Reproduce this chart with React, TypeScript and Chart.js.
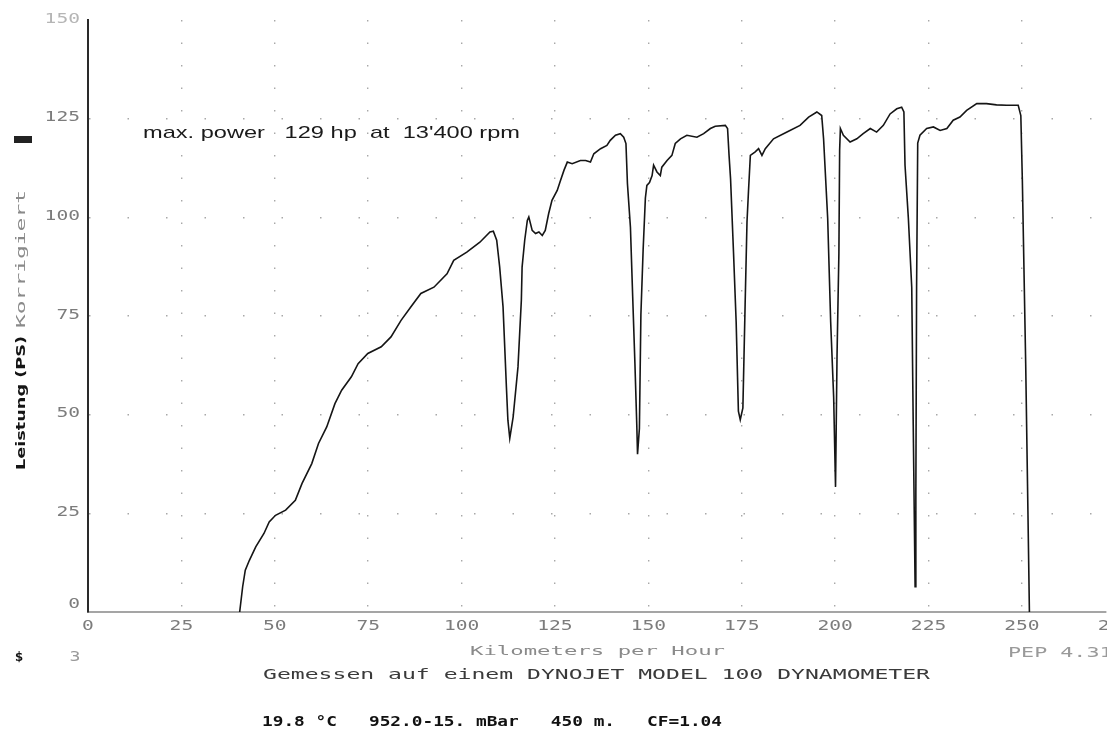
import React, { useEffect, useRef } from "react";
import { Chart, registerables } from "chart.js";

Chart.register(...registerables);

// Speed (km/h) and corrected power (PS)
const speedKmh = [
  40.6, 41.4, 42.1, 43.2, 44.9, 47.1, 48.5, 50.2, 52.9, 55.5,
  57.3, 59.9, 61.7, 63.9, 66.1, 67.9, 70.5, 72.3, 74.9, 78.5,
  81.1, 83.8, 86.4, 89.1, 92.6, 96.1, 97.9, 101.4, 104.9, 107.6,
  108.5, 109.4, 110.2, 111.1, 112.0, 112.4, 112.9, 113.8, 115.1, 116.0,
  116.2, 116.9, 117.6, 118.0, 118.9, 119.8, 120.7, 121.6, 122.4, 123.3,
  124.2, 125.6, 126.5, 127.4, 128.3, 129.6, 131.8, 133.2, 134.5, 135.4,
  137.2, 138.9, 139.8, 141.2, 142.5, 143.4, 144.0, 144.4, 145.2, 145.8,
  146.4, 146.9, 147.1, 147.6, 148.0, 148.6, 149.2, 149.6, 150.3, 151.0,
  151.4, 152.3, 153.2, 153.6, 155.0, 156.3, 157.2, 158.6, 160.3, 163.0,
  164.8, 166.6, 167.9, 170.6, 171.2, 171.6, 172.0, 172.8, 173.5, 174.1,
  174.6, 175.3, 175.9, 176.4, 176.8, 177.3, 178.6, 179.5, 180.4, 181.3,
  183.5, 187.1, 190.6, 192.9, 195.1, 196.4, 196.9, 198.0, 198.8, 199.6,
  200.1, 200.5, 201.0, 201.2, 201.4, 202.2, 204.0, 205.8, 207.5, 209.4,
  211.1, 212.9, 214.7, 216.5, 217.8, 218.4, 218.7, 219.6, 220.5, 220.9,
  221.4, 221.6, 221.8, 222.1, 222.7, 224.5, 226.3, 228.1, 229.9, 231.6,
  233.4, 235.2, 237.9, 240.5, 243.2, 245.9, 249.0, 249.7, 250.1, 251.0,
  251.6, 252.0,
];

const powerPS = [
  0, 6.4, 10.6, 13.1, 16.5, 19.9, 22.8, 24.5, 25.8, 28.3,
  32.6, 37.6, 42.7, 46.9, 52.8, 56.2, 59.6, 62.9, 65.5, 67.2,
  69.7, 73.9, 77.3, 80.7, 82.3, 85.7, 89.1, 91.2, 93.7, 96.3,
  96.5, 94.2, 87.4, 77.3, 57, 48.6, 44, 49.4, 62.1, 79,
  87.4, 94.2, 99.2, 100.1, 96.7, 95.9, 96.3, 95.4, 96.7, 100.9,
  104.3, 106.8, 109.4, 111.9, 114, 113.6, 114.4, 114.4, 114, 116.1,
  117.4, 118.2, 119.5, 120.8, 121.2, 120.3, 118.7, 108.5, 97.5, 80,
  63, 47.4, 40, 46.5, 75.3, 91.8, 104.9, 108.1, 108.8, 110.6,
  113.2, 111.5, 110.6, 112.7, 114.4, 115.7, 118.7, 119.9, 120.8, 120.3,
  121.2, 122.5, 123.1, 123.3, 122.5, 115.7, 109.8, 90.9, 73.5, 50.9,
  48.7, 51.7, 77.9, 98.8, 106.6, 115.7, 116.6, 117.4, 115.7, 117.4,
  119.9, 121.6, 123.3, 125.4, 126.7, 125.8, 119.9, 99.7, 73.5, 54.4,
  31.7, 64.8, 90.9, 117, 122.5, 120.8, 119.1, 119.9, 121.2, 122.5,
  121.6, 123.3, 126.2, 127.5, 127.9, 126.7, 113.2, 99.7, 82.2, 47.4,
  6.4, 30, 82.2, 118.8, 120.8, 122.5, 122.9, 122, 122.5, 124.6,
  125.4, 127.1, 128.8, 128.8, 128.5, 128.4, 128.4, 125.8, 109.8, 63.1,
  25.6, 0,
];

const xTickValues = [0, 25, 50, 75, 100, 125, 150, 175, 200, 225, 250, 275];
const yTickValues = [0, 25, 50, 75, 100, 125, 150];
const X_MIN = 0;
const X_MAX = 272.5;
const Y_MIN = 0;
const Y_MAX = 150;

const annotationText = "max. power   129 hp  at  13'400 rpm";
const xTitle = "Kilometers per Hour";
const yTitleMain = "Leistung (PS)";
const yTitleSub = "Korrigiert";
const footerLine1 = "Gemessen auf einem DYNOJET MODEL 100 DYNAMOMETER";
const footerLine2 = "19.8 °C   952.0-15. mBar   450 m.   CF=1.04";
const versionText = "PEP 4.31";
const runMarker = "$";
const runNumber = "3";

const MONO = '"DejaVu Sans Mono", "Liberation Mono", monospace';

function fitText(ctx: CanvasRenderingContext2D, text: string, x1: number, x2: number, y: number, font: string, color: string) {
  ctx.save();
  ctx.font = font;
  ctx.fillStyle = color;
  ctx.textBaseline = "middle";
  ctx.textAlign = "left";
  const w = ctx.measureText(text).width;
  const sx = (x2 - x1) / w;
  ctx.translate(x1, y);
  ctx.scale(sx, 1);
  ctx.fillText(text, 0, 0);
  ctx.restore();
}

function stretchText(ctx: CanvasRenderingContext2D, text: string, x: number, y: number, font: string, color: string, sx: number, align: CanvasTextAlign) {
  ctx.save();
  ctx.font = font;
  ctx.fillStyle = color;
  ctx.textBaseline = "middle";
  ctx.textAlign = align;
  ctx.translate(x, y);
  ctx.scale(sx, 1);
  ctx.fillText(text, 0, 0);
  ctx.restore();
}

const textPlugin = {
  id: "dynoText",
  afterDraw(chart: any) {
    const ctx: CanvasRenderingContext2D = chart.ctx;
    const xs = chart.scales.x;
    const ys = chart.scales.y;

    // tick labels
    xTickValues.forEach((v) => {
      stretchText(ctx, String(v), xs.getPixelForValue(v), 626, `14px ${MONO}`, "#7c7c7c", 1.4, "center");
    });
    yTickValues.forEach((v) => {
      const py = ys.getPixelForValue(v) - (v === 0 ? 8 : 1);
      stretchText(ctx, String(v), 80, py, `14px ${MONO}`, v === 150 ? "#b5b5b5" : "#7c7c7c", 1.4, "right");
    });

    // axis titles
    fitText(ctx, xTitle, 470, 725, 652, `13px ${MONO}`, "#8a8a8a");
    ctx.save();
    ctx.translate(22, 0);
    ctx.rotate(-Math.PI / 2);
    fitText(ctx, yTitleMain, -470, -336, 0, 'bold 13px "DejaVu Sans"', "#151515");
    fitText(ctx, yTitleSub, -328, -190, 0, `13px ${MONO}`, "#8a8a8a");
    ctx.restore();

    // legend mark + annotation
    ctx.save();
    ctx.fillStyle = "#222";
    ctx.fillRect(14, 136, 18, 7);
    ctx.restore();
    fitText(ctx, annotationText, 143, 520, 133, '17px "Liberation Sans"', "#1a1a1a");

    // footer texts
    stretchText(ctx, runMarker, 19, 658, `bold 13px ${MONO}`, "#111", 1.1, "center");
    stretchText(ctx, runNumber, 75, 657, `14px ${MONO}`, "#9a9a9a", 1.3, "center");
    stretchText(ctx, versionText, 1008, 653, `14px ${MONO}`, "#9a9a9a", 1.55, "left");
    fitText(ctx, footerLine1, 263, 930, 675, `14px ${MONO}`, "#3a3a3a");
    fitText(ctx, footerLine2, 262, 722, 722, `bold 14px ${MONO}`, "#111");
  },
};

export default function App() {
  const ref = useRef<HTMLCanvasElement>(null);

  useEffect(() => {
    const canvas = ref.current;
    if (!canvas) return;
    const chart = new Chart(canvas, {
      type: "line",
      data: {
        datasets: [
          {
            data: speedKmh.map((x, i) => ({ x, y: powerPS[i] })),
            borderColor: "#151515",
            borderWidth: 1.6,
            pointRadius: 0,
            tension: 0,
            fill: false,
          },
        ],
      },
      options: {
        responsive: false,
        animation: false,
        devicePixelRatio: 1,
        layout: { padding: { left: 88, right: 1, top: 20, bottom: 126 } },
        plugins: { legend: { display: false }, tooltip: { enabled: false } },
        scales: {
          x: {
            type: "linear",
            min: X_MIN,
            max: X_MAX,
            afterBuildTicks: (s: any) => {
              s.ticks = xTickValues.filter((v) => v <= X_MAX).map((value) => ({ value }));
            },
            ticks: { display: false },
            grid: {
              drawTicks: false,
              lineWidth: 1.4,
              color: (c: any) => (c.tick && c.tick.value === 0 ? "rgba(0,0,0,0)" : "#a8a8a8"),
            },
            border: { color: "#a5a5a5", width: 2, dash: [1.5, 21] },
          },
          y: {
            type: "linear",
            min: Y_MIN,
            max: Y_MAX,
            afterBuildTicks: (s: any) => {
              s.ticks = yTickValues.map((value) => ({ value }));
            },
            ticks: { display: false },
            grid: {
              drawTicks: false,
              lineWidth: 1.4,
              color: (c: any) =>
                c.tick && (c.tick.value === 0 || c.tick.value === 150) ? "rgba(0,0,0,0)" : "#a8a8a8",
            },
            border: { color: "#2a2a2a", width: 2, dash: [1.5, 37] },
          },
        },
      },
      plugins: [textPlugin],
    });
    return () => chart.destroy();
  }, []);

  return (
    <div style={{ position: "fixed", left: 0, top: 0, width: 1107, height: 738, background: "#fff" }}>
      <canvas ref={ref} width={1107} height={738} style={{ display: "block", width: 1107, height: 738 }} />
    </div>
  );
}
